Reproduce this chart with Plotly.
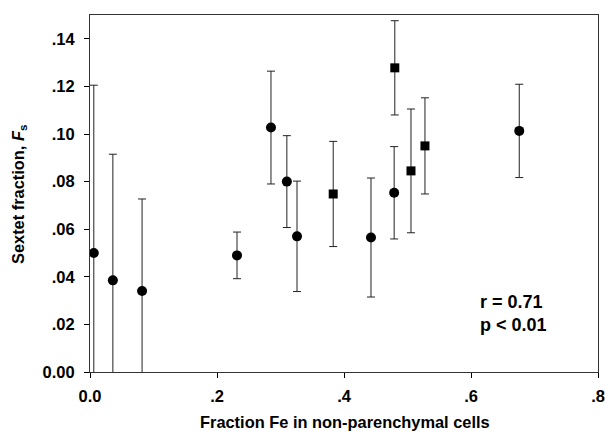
import plotly.graph_objects as go

circ_x = [0.006, 0.036, 0.082, 0.2315, 0.285, 0.310, 0.326, 0.4425, 0.479, 0.676]
circ_y = [0.050, 0.0385, 0.034, 0.049, 0.1027, 0.080, 0.057, 0.0565, 0.0753, 0.1013]
circ_err = [0.0705, 0.053, 0.0387, 0.0098, 0.0237, 0.0193, 0.0232, 0.025, 0.0194, 0.0196]

sq_x = [0.383, 0.480, 0.5055, 0.5275]
sq_y = [0.0748, 0.1278, 0.0845, 0.095]
sq_err = [0.0221, 0.0198, 0.026, 0.0202]

x_ticks = [0, 0.2, 0.4, 0.6, 0.8]
x_labels = ["0.0", ".2", ".4", ".6", ".8"]
y_ticks = [0, 0.02, 0.04, 0.06, 0.08, 0.10, 0.12, 0.14]
y_labels = ["0.00", ".02", ".04", ".06", ".08", ".10", ".12", ".14"]

font = "Liberation Sans, Arial, sans-serif"
err_style = dict(type="data", thickness=1, width=4, color="#222")

L, R, T, B = 90, 7, 15, 61
PW, PH = 605 - L - R, 433 - T - B

fig = go.Figure()
fig.add_trace(go.Scatter(
    x=circ_x, y=circ_y, mode="markers",
    marker=dict(symbol="circle", size=10, color="black"),
    error_y=dict(array=circ_err, **err_style), cliponaxis=True))
fig.add_trace(go.Scatter(
    x=sq_x, y=sq_y, mode="markers",
    marker=dict(symbol="square", size=9, color="black"),
    error_y=dict(array=sq_err, **err_style), cliponaxis=True))

fig.add_annotation(x=0.611, y=0.0245, xref="x", yref="y", xanchor="left", yanchor="middle",
                   text="<b>r = 0.71<br>p < 0.01</b>", showarrow=False, align="left",
                   font=dict(family=font, size=18, color="black"))

fig.add_annotation(xref="paper", yref="paper", x=(345 - L) / PW, y=-(422 - (433 - B)) / PH,
                   text="<b>Fraction Fe in non-parenchymal cells</b>", showarrow=False,
                   xanchor="center", yanchor="middle",
                   font=dict(family=font, size=16.4, color="black"))

fig.add_annotation(xref="paper", yref="paper", x=(19 - L) / PW, y=(433 - B - 195) / PH,
                   text="<b>Sextet fraction, <i>F</i><sub>s</sub></b>", showarrow=False,
                   xanchor="center", yanchor="middle", textangle=-90,
                   font=dict(family=font, size=16.4, color="black"))

fig.update_layout(
    width=605, height=433, showlegend=False,
    margin=dict(l=L, r=R, t=T, b=B),
    plot_bgcolor="white", paper_bgcolor="white",
    font=dict(family=font, size=14, color="black"),
    xaxis=dict(range=[0, 0.8], tickvals=x_ticks, ticktext=x_labels, ticks="outside",
               ticklen=5, tickwidth=1, tickcolor="black", showline=True, linecolor="#333",
               linewidth=1, mirror=True, showgrid=False, zeroline=False, automargin=False,
               ticklabelstandoff=4,
               tickfont=dict(family=font, size=16.5, weight="bold")),
    yaxis=dict(range=[0, 0.15], tickvals=y_ticks, ticktext=y_labels, ticks="outside",
               ticklen=5, tickwidth=1, tickcolor="black", showline=True, linecolor="#333",
               linewidth=1, mirror=True, showgrid=False, zeroline=False, automargin=False,
               ticklabelstandoff=6,
               tickfont=dict(family=font, size=16.5, weight="bold")),
)
fig.write_html("out.html", config={"displayModeBar": False},
               post_script="document.body.style.margin='0';")
